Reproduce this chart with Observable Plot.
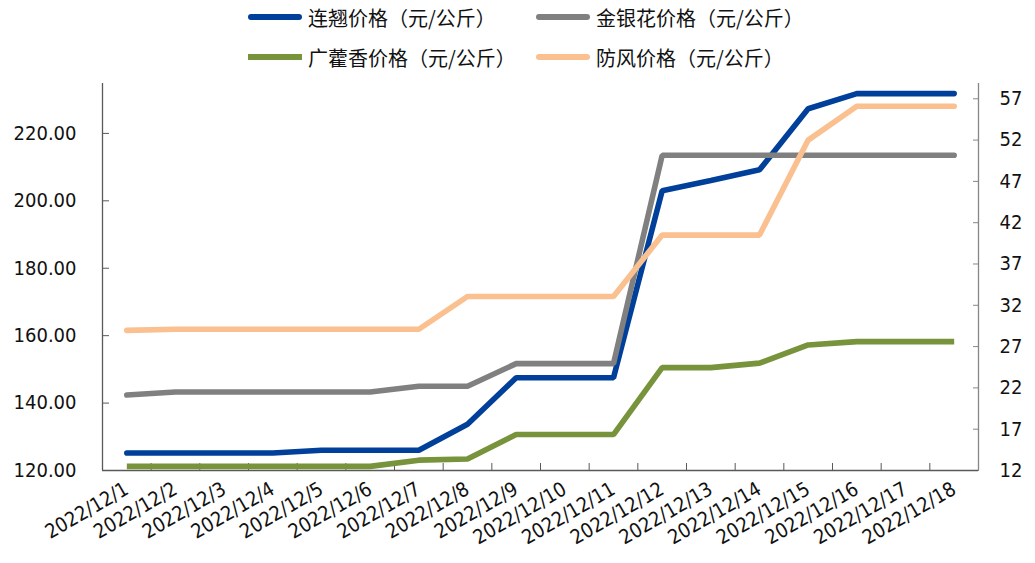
<!DOCTYPE html>
<html>
<head>
<meta charset="utf-8">
<script src="https://cdn.jsdelivr.net/npm/d3@7"></script>
<script src="https://cdn.jsdelivr.net/npm/@observablehq/plot@0.6"></script>
<style>
  body { margin: 0; background: #fff; }
  #legend { position: relative; width: 1035px; height: 76px; font-family: "Noto Sans CJK SC", sans-serif; font-size: 20px; color: #111; }
  .item { position: absolute; display: flex; align-items: center; height: 34px; white-space: nowrap; }
  .sw { width: 54px; height: 6px; margin-right: 6px; }
  #chart svg { display: block; font-family: "DejaVu Sans Condensed", "DejaVu Sans", sans-serif; font-stretch: condensed; }
</style>
</head>
<body>
<div id="legend"></div>
<div id="chart"></div>
<script>
// Dates on the category axis
const dates = [
  "2022/12/1", "2022/12/2", "2022/12/3", "2022/12/4", "2022/12/5", "2022/12/6",
  "2022/12/7", "2022/12/8", "2022/12/9", "2022/12/10", "2022/12/11", "2022/12/12",
  "2022/12/13", "2022/12/14", "2022/12/15", "2022/12/16", "2022/12/17", "2022/12/18"
];

// Prices, yuan per kg (left axis)
const lianqiao = [125.2, 125.2, 125.2, 125.2, 126.0, 126.0, 126.0, 133.7, 147.5, 147.5, 147.5, 203.0, 206.0, 209.2, 227.3, 231.8, 231.8, 231.8];
const jinyinhua = [142.4, 143.3, 143.3, 143.3, 143.3, 143.3, 145.0, 145.0, 151.7, 151.7, 151.7, 213.5, 213.5, 213.5, 213.5, 213.5, 213.5, 213.5];

// Prices, yuan per kg (right axis)
const guanghuoxiang = [12.5, 12.5, 12.5, 12.5, 12.5, 12.5, 13.25, 13.4, 16.35, 16.35, 16.35, 24.45, 24.45, 25.0, 27.2, 27.6, 27.6, 27.6];
const fangfeng = [28.96, 29.1, 29.1, 29.1, 29.1, 29.1, 29.1, 33.07, 33.07, 33.07, 33.07, 40.5, 40.5, 40.5, 52.0, 56.1, 56.1, 56.1];

// Axis ticks and extents
const leftTicks = [120, 140, 160, 180, 200, 220];
const rightTicks = [12, 17, 22, 27, 32, 37, 42, 47, 52, 57];
const leftDomain = [120, 234.8];
const rightDomain = [12, 58.85];

const series = [
  {name: "连翘价格（元/公斤）", values: lianqiao, axis: "left", color: "#00409a", cap: "round"},
  {name: "金银花价格（元/公斤）", values: jinyinhua, axis: "left", color: "#808080", cap: "round"},
  {name: "广藿香价格（元/公斤）", values: guanghuoxiang, axis: "right", color: "#77933c", cap: "butt"},
  {name: "防风价格（元/公斤）", values: fangfeng, axis: "right", color: "#fac090", cap: "round"}
];

// Map a right-axis value onto the left-axis scale
const toLeft = v => leftDomain[0] + (v - rightDomain[0]) * (leftDomain[1] - leftDomain[0]) / (rightDomain[1] - rightDomain[0]);

// Legend: two rows, two columns
const legend = document.getElementById("legend");
series.forEach((s, k) => {
  const item = document.createElement("div");
  item.className = "item";
  item.style.left = (k % 2 === 0 ? 248 : 536) + "px";
  item.style.top = (k < 2 ? 0 : 40) + "px";
  const sw = document.createElement("span");
  sw.className = "sw";
  sw.style.background = s.color;
  sw.style.borderRadius = s.cap === "round" ? "3px" : "0";
  const label = document.createElement("span");
  label.textContent = s.name;
  item.append(sw, label);
  legend.append(item);
});

const idx = d3.range(dates.length);
const xDomain = [-0.5, dates.length - 0.5];
const boundaries = d3.range(dates.length - 1).map(i => i + 0.5);

const lineMarks = series.map(s => Plot.lineY(
  s.values.map((v, i) => ({i, y: s.axis === "right" ? toLeft(v) : v})),
  {x: "i", y: "y", stroke: s.color, strokeWidth: 5.6, strokeLinecap: s.cap, strokeLinejoin: "miter"}
));

const chart = Plot.plot({
  width: 1035,
  height: 487,
  marginTop: 7,
  marginBottom: 93,
  marginLeft: 102,
  marginRight: 57,
  style: {fontSize: "20px", color: "#111", background: "#fff"},
  x: {domain: xDomain},
  y: {domain: leftDomain},
  marks: [
    // left axis labels and inward ticks
    Plot.axisY(leftTicks, {anchor: "left", tickSize: 0, tickPadding: 26, tickFormat: d => d.toFixed(2), label: null, fill: "#111"}),
    Plot.axisY(leftTicks, {anchor: "left", tickSize: -7, tickFormat: () => "", label: null, stroke: "#595959"}),
    // right axis, values mapped from the right scale
    Plot.axisY(rightTicks.map(toLeft), {anchor: "right", tickSize: 0, tickPadding: 21, tickFormat: (d, i) => String(rightTicks[i]), label: null, fill: "#111"}),
    Plot.axisY(rightTicks.map(toLeft), {anchor: "right", tickSize: -6, tickFormat: () => "", label: null, stroke: "#868686"}),
    // category labels and boundary ticks
    Plot.axisX(idx, {anchor: "bottom", tickSize: 0, tickPadding: 17, tickRotate: -30, tickFormat: i => dates[i], label: null, fill: "#111"}),
    Plot.axisX(boundaries, {anchor: "bottom", tickSize: -7, tickFormat: () => "", label: null, stroke: "#595959"}),
    // axis lines
    Plot.ruleX([xDomain[0]], {stroke: "#595959", strokeWidth: 1.3}),
    Plot.ruleX([xDomain[1]], {stroke: "#868686", strokeWidth: 1.3}),
    Plot.ruleY([leftDomain[0]], {stroke: "#595959", strokeWidth: 1.3}),
    ...lineMarks
  ]
});
document.getElementById("chart").append(chart);
</script>
</body>
</html>
